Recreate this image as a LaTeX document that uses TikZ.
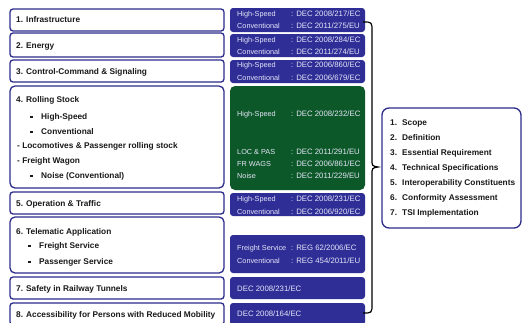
\documentclass[tikz,border=0pt]{standalone}
\usepackage{fontspec}
\setmainfont{Liberation Sans}
\definecolor{boxblue}{RGB}{44,44,140}
\definecolor{fillblue}{RGB}{46,46,150}
\definecolor{fillgreen}{RGB}{12,88,40}
\definecolor{txt}{RGB}{25,25,25}
\definecolor{btxt}{RGB}{230,230,250}
\newcommand{\bul}{\makebox[11pt][l]{\rule[1.5pt]{2.6pt}{2.6pt}}}
\newcommand{\numb}[1]{\makebox[12pt][l]{#1}}
\begin{document}
\begin{tikzpicture}[x=1pt,y=-1pt,
  lbox/.style={draw=boxblue, line width=1.3pt, rounded corners=3pt, fill=white, inner sep=0pt, minimum width=214pt},
  rbox/.style={draw=boxblue, line width=1.3pt, rounded corners=7pt, fill=white, inner sep=0pt},
  bbox/.style={fill=fillblue, rounded corners=3pt, inner sep=0pt, minimum width=135pt},
  gbox/.style={fill=fillgreen, rounded corners=5pt, inner sep=0pt, minimum width=135pt},
  lt/.style={anchor=mid west, inner sep=0pt, font=\fontsize{8.3}{10}\selectfont\bfseries, text=txt},
  bt/.style={anchor=mid west, inner sep=0pt, font=\fontsize{7.3}{9}\selectfont, text=btxt},
  bv/.style={bt, font=\fontsize{7.8}{9}\selectfont},
  brace/.style={draw=black, line width=1.2pt}]
\useasboundingbox (0,0) rectangle (523,322);
\fill[white] (0,0) rectangle (523,322);
% left boxes
\node[lbox, minimum height=22pt] (L1) at (117,20) {};
\node[lbox, minimum height=24pt] (L2) at (117,45) {};
\node[lbox, minimum height=22pt] (L3) at (117,71) {};
\node[lbox, minimum height=102pt, rounded corners=5pt] (L4) at (117,137) {};
\node[lbox, minimum height=22pt] (L5) at (117,203) {};
\node[lbox, minimum height=56pt, rounded corners=5pt] (L6) at (117,245) {};
\node[lbox, minimum height=22pt] (L7) at (117,288) {};
\node[lbox, minimum height=22pt] (L8) at (117,314) {};
% left texts
\node[lt] (t1) at (16,20) {1. Infrastructure};
\node[lt] (t2) at (16,46) {2. Energy};
\node[lt] (t3) at (16,72) {3. Control-Command \& Signaling};
\node[lt] (t4) at (16,100) {4. Rolling Stock};
\node[lt] (t4a) at (30,117) {\bul High-Speed};
\node[lt] (t4b) at (30,132) {\bul Conventional};
\node[lt] (t4c) at (17,146) {- Locomotives \& Passenger rolling stock};
\node[lt] (t4d) at (17,161) {- Freight Wagon};
\node[lt] (t4e) at (30,176) {\bul Noise (Conventional)};
\node[lt] (t5) at (16,204) {5. Operation \& Traffic};
\node[lt] (t6) at (16,232) {6. Telematic Application};
\node[lt] (t6a) at (28,246) {\bul Freight Service};
\node[lt] (t6b) at (28,262) {\bul Passenger Service};
\node[lt] (t7) at (16,289) {7. Safety in Railway Tunnels};
\node[lt] (t8) at (16,315) {8. Accessibility for Persons with Reduced Mobility};
% blue / green boxes
\node[bbox, minimum height=24pt] (B1) at (297.5,20) {};
\node[bbox, minimum height=23pt] (B2) at (297.5,45.5) {};
\node[bbox, minimum height=23pt] (B3) at (297.5,71.5) {};
\node[gbox, minimum height=104pt] (G4) at (297.5,138) {};
\node[bbox, minimum height=23pt] (B5) at (297.5,204.5) {};
\node[bbox, minimum height=38pt] (B6) at (297.5,254) {};
\node[bbox, minimum height=22pt] (B7) at (297.5,288) {};
\node[bbox, minimum height=22pt] (B8) at (297.5,314) {};
% blue texts
\node[bt] (b1a) at (237,14) {High-Speed};
\node[bv] (b1av) at (291,14) {: DEC 2008/217/EC};
\node[bt] (b1b) at (237,26) {Conventional};
\node[bv] (b1bv) at (291,26) {: DEC 2011/275/EU};
\node[bt] (b2a) at (237,40) {High-Speed};
\node[bv] (b2av) at (291,40) {: DEC 2008/284/EC};
\node[bt] (b2b) at (237,52) {Conventional};
\node[bv] (b2bv) at (291,52) {: DEC 2011/274/EU};
\node[bt] (b3a) at (237,65) {High-Speed};
\node[bv] (b3av) at (291,65) {: DEC 2006/860/EC};
\node[bt] (b3b) at (237,78) {Conventional};
\node[bv] (b3bv) at (291,78) {: DEC 2006/679/EC};
\node[bt] (g1) at (237,114) {High-Speed};
\node[bv] (g1v) at (291,114) {: DEC 2008/232/EC};
\node[bt] (g2) at (237,152) {LOC \& PAS};
\node[bv] (g2v) at (291,152) {: DEC 2011/291/EU};
\node[bt] (g3) at (237,164) {FR WAGS};
\node[bv] (g3v) at (291,164) {: DEC 2006/861/EC};
\node[bt] (g4) at (237,176) {Noise};
\node[bv] (g4v) at (291,176) {: DEC 2011/229/EU};
\node[bt] (b5a) at (237,199) {High-Speed};
\node[bv] (b5av) at (291,199) {: DEC 2008/231/EC};
\node[bt] (b5b) at (237,212) {Conventional};
\node[bv] (b5bv) at (291,212) {: DEC 2006/920/EC};
\node[bt] (b6a) at (237,248) {Freight Service};
\node[bv] (b6av) at (291,248) {: REG 62/2006/EC};
\node[bt] (b6b) at (237,261) {Conventional};
\node[bv] (b6bv) at (291,261) {: REG 454/2011/EU};
\node[bv] (b7) at (237,289) {DEC 2008/231/EC};
\node[bv] (b8) at (237,314) {DEC 2008/164/EC};
% brace
\coordinate (bt0) at (363,22);
\coordinate (bmid) at (378,167);
\coordinate (bb0) at (363,313);
\draw[brace] (bt0) .. controls (372,22) .. (372,31) -- (372,159)
  .. controls (372,166) .. (bmid) .. controls (372,168) .. (372,175)
  -- (372,304) .. controls (372,313) .. (bb0);
% right box
\node[rbox, minimum width=139pt, minimum height=120pt] (R) at (451.5,168) {};
\node[lt] (r1) at (390,123) {\numb{1.}Scope};
\node[lt] (r2) at (390,138) {\numb{2.}Definition};
\node[lt] (r3) at (390,153) {\numb{3.}Essential Requirement};
\node[lt] (r4) at (390,168) {\numb{4.}Technical Specifications};
\node[lt] (r5) at (390,183) {\numb{5.}Interoperability Constituents};
\node[lt] (r6) at (390,198) {\numb{6.}Conformity Assessment};
\node[lt] (r7) at (390,213) {\numb{7.}TSI Implementation};
\end{tikzpicture}
\end{document}
